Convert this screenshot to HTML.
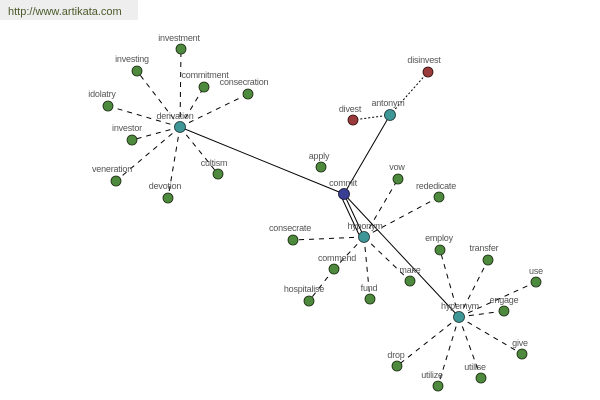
<!DOCTYPE html>
<html><head><meta charset="utf-8"><style>
body{margin:0;background:#fff;}
svg{display:block;}
text{font-family:"Liberation Sans",sans-serif;font-size:9px;fill:#555;text-anchor:middle;letter-spacing:-0.2px}
.d{stroke:#000;stroke-width:1;stroke-dasharray:5,5;fill:none}
.o{stroke:#000;stroke-width:1;stroke-dasharray:2,2;fill:none}
.s{stroke:#000;stroke-width:1;fill:none}
.g{fill:#4e8a3e;stroke:#1a2a10;stroke-width:0.8}
.t{fill:#3f9696;stroke:#1a3030;stroke-width:0.8}
.b{fill:#3a3f94;stroke:#101030;stroke-width:0.8}
.r{fill:#9a3a3a;stroke:#301010;stroke-width:0.8}
</style></head><body>
<svg width="600" height="400" viewBox="0 0 600 400">
<rect x="0" y="0" width="138" height="20" fill="#eeeeee"/>
<text x="8" y="15" style="text-anchor:start;font-size:11px;fill:#4a5a2a;letter-spacing:0">http://www.artikata.com</text>
<!-- solid -->
<line class="s" x1="180" y1="127" x2="344" y2="194"/>
<line class="s" x1="344" y1="194" x2="390" y2="115"/>
<line class="s" x1="344" y1="194" x2="364" y2="237"/>
<line class="s" x1="341" y1="196" x2="361" y2="239"/>
<line class="s" x1="344" y1="194" x2="459" y2="317"/>
<!-- dotted antonym -->
<line class="o" x1="390" y1="115" x2="428" y2="72"/>
<line class="o" x1="390" y1="115" x2="353" y2="120"/>
<!-- derivation -->
<g class="d">
<line x1="180" y1="127" x2="181" y2="49"/>
<line x1="180" y1="127" x2="137" y2="71"/>
<line x1="180" y1="127" x2="204" y2="87"/>
<line x1="180" y1="127" x2="248" y2="94"/>
<line x1="180" y1="127" x2="108" y2="106"/>
<line x1="180" y1="127" x2="132" y2="140"/>
<line x1="180" y1="127" x2="116" y2="181"/>
<line x1="180" y1="127" x2="168" y2="198"/>
<line x1="180" y1="127" x2="218" y2="174"/>
</g>
<!-- hyponym -->
<g class="d">
<line x1="364" y1="237" x2="398" y2="179"/>
<line x1="364" y1="237" x2="439" y2="197"/>
<line x1="364" y1="237" x2="293" y2="240"/>
<line x1="364" y1="237" x2="334" y2="269"/>
<line x1="364" y1="237" x2="410" y2="281"/>
<line x1="364" y1="237" x2="370" y2="299"/>
<line x1="334" y1="269" x2="309" y2="301"/>
</g>
<!-- hypernym -->
<g class="d">
<line x1="459" y1="317" x2="440" y2="250"/>
<line x1="459" y1="317" x2="488" y2="260"/>
<line x1="459" y1="317" x2="536" y2="282"/>
<line x1="459" y1="317" x2="504" y2="311"/>
<line x1="459" y1="317" x2="522" y2="354"/>
<line x1="459" y1="317" x2="481" y2="378"/>
<line x1="459" y1="317" x2="438" y2="386"/>
<line x1="459" y1="317" x2="397" y2="366"/>
</g>
<!-- nodes -->
<g>
<circle class="g" cx="181" cy="49" r="5"/><text x="179" y="41">investment</text>
<circle class="g" cx="137" cy="71" r="5"/><text x="132" y="62">investing</text>
<circle class="g" cx="204" cy="87" r="5"/><text x="205" y="78">commitment</text>
<circle class="g" cx="248" cy="94" r="5"/><text x="244" y="85">consecration</text>
<circle class="g" cx="108" cy="106" r="5"/><text x="102" y="97">idolatry</text>
<circle class="g" cx="132" cy="140" r="5"/><text x="127" y="131">investor</text>
<circle class="g" cx="116" cy="181" r="5"/><text x="112" y="172">veneration</text>
<circle class="g" cx="168" cy="198" r="5"/><text x="165" y="189">devotion</text>
<circle class="g" cx="218" cy="174" r="5"/><text x="214" y="166">cultism</text>
<circle class="t" cx="180" cy="127" r="5.5"/><text x="175" y="119">derivation</text>
<circle class="r" cx="428" cy="72" r="5"/><text x="424" y="63">disinvest</text>
<circle class="r" cx="353" cy="120" r="5"/><text x="350" y="112">divest</text>
<circle class="t" cx="390" cy="115" r="5.5"/><text x="388" y="106">antonym</text>
<circle class="g" cx="321" cy="167" r="5"/><text x="319" y="159">apply</text>
<circle class="g" cx="398" cy="179" r="5"/><text x="397" y="170">vow</text>
<circle class="g" cx="439" cy="197" r="5"/><text x="436" y="189">rededicate</text>
<circle class="g" cx="293" cy="240" r="5"/><text x="290" y="231">consecrate</text>
<circle class="g" cx="334" cy="269" r="5"/><text x="337" y="261">commend</text>
<circle class="g" cx="410" cy="281" r="5"/><text x="410" y="273">make</text>
<circle class="g" cx="309" cy="301" r="5"/><text x="304" y="292">hospitalise</text>
<circle class="g" cx="370" cy="299" r="5"/><text x="369" y="291">fund</text>
<circle class="t" cx="364" cy="237" r="5.5"/><text x="365" y="229">hyponym</text>
<circle class="g" cx="440" cy="250" r="5"/><text x="439" y="241">employ</text>
<circle class="g" cx="488" cy="260" r="5"/><text x="484" y="251">transfer</text>
<circle class="g" cx="536" cy="282" r="5"/><text x="536" y="274">use</text>
<circle class="g" cx="504" cy="311" r="5"/><text x="504" y="303">engage</text>
<circle class="g" cx="522" cy="354" r="5"/><text x="520" y="346">give</text>
<circle class="g" cx="481" cy="378" r="5"/><text x="475" y="370">utilise</text>
<circle class="g" cx="438" cy="386" r="5"/><text x="432" y="378">utilize</text>
<circle class="g" cx="397" cy="366" r="5"/><text x="396" y="358">drop</text>
<circle class="t" cx="459" cy="317" r="5.5"/><text x="460" y="309">hypernym</text>
<circle class="b" cx="344" cy="194" r="5.5"/><text x="343" y="186">commit</text>
</g>
</svg>
</body></html>
